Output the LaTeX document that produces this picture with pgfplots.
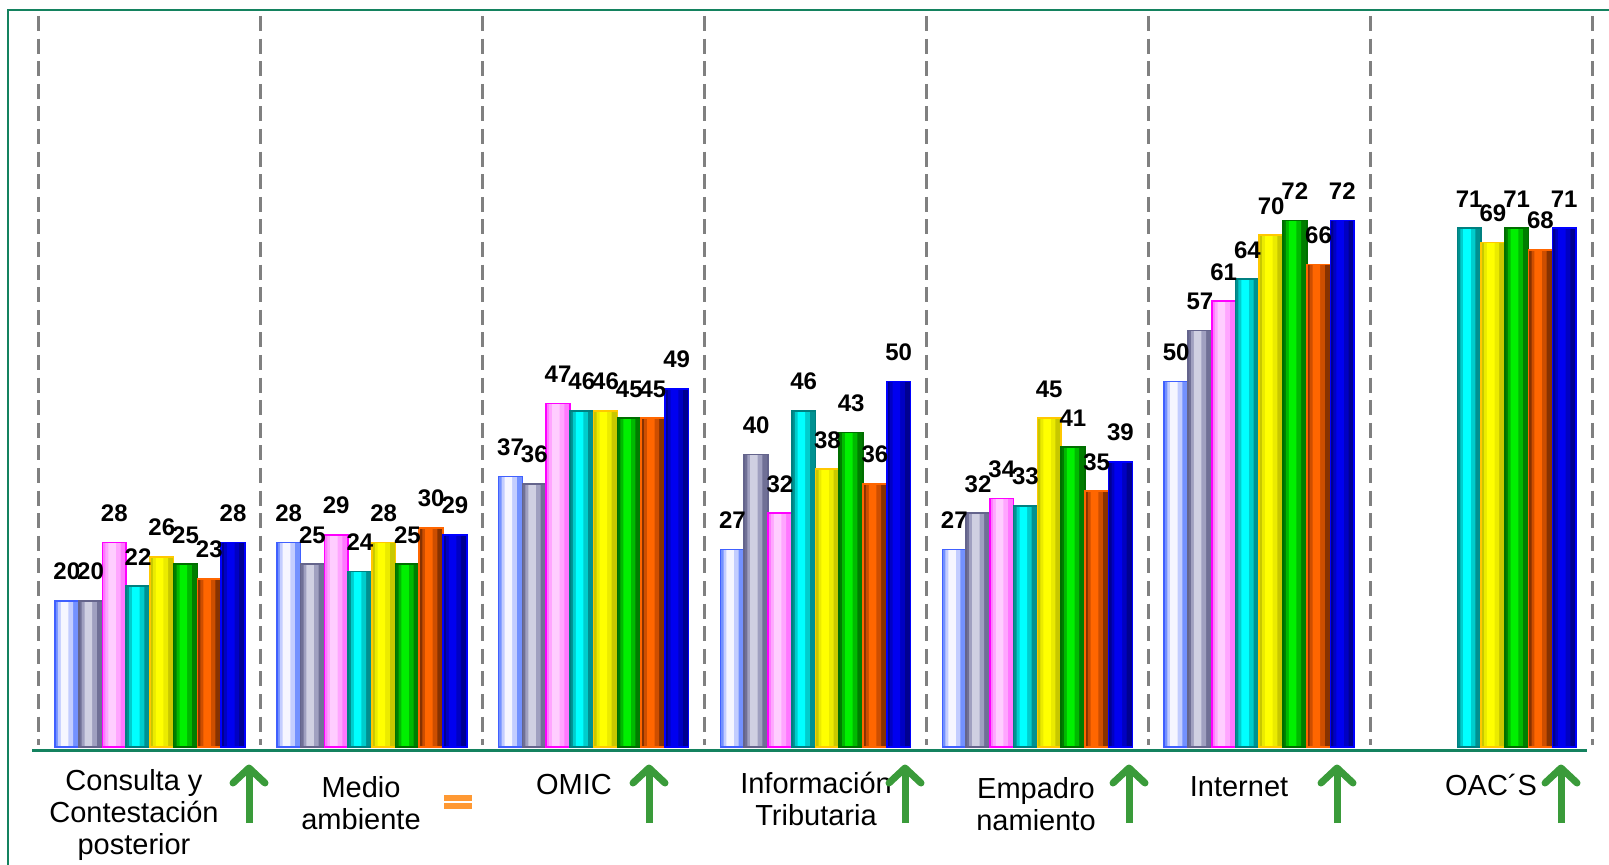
\documentclass[border=0pt]{standalone}
\usepackage{fontspec}
\setmainfont{Liberation Sans}
\usepackage{pgfplots}
\usepackage{pgfplotstable}
\pgfplotsset{compat=1.18}
\definecolor{framec}{RGB}{20,130,95}
\definecolor{arrowgreen}{RGB}{58,155,58}
\definecolor{eqorange}{RGB}{255,153,51}
\definecolor{sepgray}{RGB}{128,128,128}
\definecolor{aO}{RGB}{64,96,255}\definecolor{aB}{RGB}{115,145,255}\definecolor{aM}{RGB}{195,205,255}\definecolor{aH}{RGB}{246,246,255}
\definecolor{bO}{RGB}{100,100,140}\definecolor{bB}{RGB}{112,112,150}\definecolor{bM}{RGB}{160,160,192}\definecolor{bH}{RGB}{208,208,226}
\definecolor{cO}{RGB}{255,0,255}\definecolor{cB}{RGB}{255,120,255}\definecolor{cM}{RGB}{255,165,255}\definecolor{cH}{RGB}{255,205,255}
\definecolor{dO}{RGB}{0,128,128}\definecolor{dB}{RGB}{0,145,145}\definecolor{dM}{RGB}{0,205,205}\definecolor{dH}{RGB}{0,255,255}
\definecolor{eO}{RGB}{255,200,0}\definecolor{eB}{RGB}{200,200,0}\definecolor{eM}{RGB}{235,235,0}\definecolor{eH}{RGB}{255,255,0}
\definecolor{fO}{RGB}{0,110,0}\definecolor{fB}{RGB}{0,125,0}\definecolor{fM}{RGB}{0,185,0}\definecolor{fH}{RGB}{0,240,0}
\definecolor{gO}{RGB}{255,102,0}\definecolor{gB}{RGB}{135,50,0}\definecolor{gM}{RGB}{205,78,0}\definecolor{gH}{RGB}{255,102,0}
\definecolor{hO}{RGB}{0,0,255}\definecolor{hB}{RGB}{0,0,145}\definecolor{hM}{RGB}{0,0,195}\definecolor{hH}{RGB}{0,0,240}
% group index g (0..6), value v
\pgfplotstableread{
g v
0 20
1 28
2 37
3 27
4 27
5 50
}\tabA
\pgfplotstableread{
g v
0 20
1 25
2 36
3 40
4 32
5 57
}\tabB
\pgfplotstableread{
g v
0 28
1 29
2 47
3 32
4 34
5 61
}\tabC
\pgfplotstableread{
g v
0 22
1 24
2 46
3 46
4 33
5 64
6 71
}\tabD
\pgfplotstableread{
g v
0 26
1 28
2 46
3 38
4 45
5 70
6 69
}\tabE
\pgfplotstableread{
g v
0 25
1 25
2 45
3 43
4 41
5 72
6 71
}\tabF
\pgfplotstableread{
g v
0 23
1 30
2 45
3 36
4 35
5 66
6 68
}\tabG
\pgfplotstableread{
g v
0 28
1 29
2 49
3 50
4 39
5 72
6 71
}\tabH
% #1 table, #2 offset, #3 side colour, #4 mid colour, #5 highlight, #6 outline
\newcommand{\barseries}[6]{%
  \addplot[fill=#3, draw=none, bar width=0.107] table[x expr=\thisrow{g}+(#2), y=v] {#1};
  \addplot[fill=#4, draw=none, bar width=0.068] table[x expr=\thisrow{g}+(#2)-0.006, y=v] {#1};
  \addplot[fill=#5, draw=none, bar width=0.034] table[x expr=\thisrow{g}+(#2)-0.01, y=v] {#1};
  \addplot[fill=none, draw=#6, line width=0.8pt, bar width=0.107, nodes near coords] table[x expr=\thisrow{g}+(#2), y=v] {#1};
}
\begin{document}
\begin{tikzpicture}
\useasboundingbox (0,0) rectangle (804.5pt,-432.5pt);
\draw[framec, line width=1pt] (4.2pt,-445pt) -- (4.2pt,-5.2pt) -- (815pt,-5.2pt);
\begin{axis}[at={(19.5pt,-373.5pt)}, anchor=south west, scale only axis,
  width=776.5pt, height=365.5pt, xmin=-0.5, xmax=6.5, ymin=0, ymax=100,
  hide axis, clip=false, ybar,
  /pgf/number format/assume math mode=true,
  every axis plot/.append style={bar shift=0pt},
  every node near coord/.append style={font=\fontsize{12}{12}\selectfont\bfseries, text=black, inner sep=0pt, yshift=10pt}]
\pgfplotsinvokeforeach{-0.5,0.5,1.5,2.5,3.5,4.5,5.5,6.5}{
  \draw[sepgray, line width=1.5pt, dash pattern=on 7.5pt off 3.8pt] (axis cs:#1,100) -- (axis cs:#1,0.3);
}
\barseries{\tabA}{-0.3745}{aB}{aM}{aH}{aO}
\barseries{\tabB}{-0.2675}{bB}{bM}{bH}{bO}
\barseries{\tabC}{-0.1605}{cB}{cM}{cH}{cO}
\barseries{\tabD}{-0.0535}{dB}{dM}{dH}{dO}
\barseries{\tabE}{0.0535}{eB}{eM}{eH}{eO}
\barseries{\tabF}{0.1605}{fB}{fM}{fH}{fO}
\barseries{\tabG}{0.2675}{gB}{gM}{gH}{gO}
\barseries{\tabH}{0.3745}{hB}{hM}{hH}{hO}
\end{axis}
\draw[framec, line width=1.5pt] (16pt,-375pt) -- (793.5pt,-375pt);
\begin{scope}[x=0.5pt, y=-0.5pt, every node/.style={font=\fontsize{14.5}{16}\selectfont, align=center, inner sep=0pt}]
\node at (134,815) {Consulta y\\Contestación\\posterior};
\node at (361,803.5) {Medio\\ambiente};
\node at (574,785) {OMIC};
\node at (816,798.5) {Información\\Tributaria};
\node at (1036,804) {Empadro\\namiento};
\node at (1239,787) {Internet};
\node at (1491,785) {OAC´S};
\foreach \ax in {249,649,905,1129,1337,1561}{
  \draw[arrowgreen, line width=3.5pt] (\ax,823) -- (\ax,772);
  \draw[arrowgreen, line width=3.5pt, line cap=round, line join=round] (\ax-16,783) -- (\ax,768) -- (\ax+16,783);
}
\fill[eqorange] (444,795) rectangle (472,801);
\fill[eqorange] (444,803) rectangle (472,809);
\end{scope}
\end{tikzpicture}
\end{document}
